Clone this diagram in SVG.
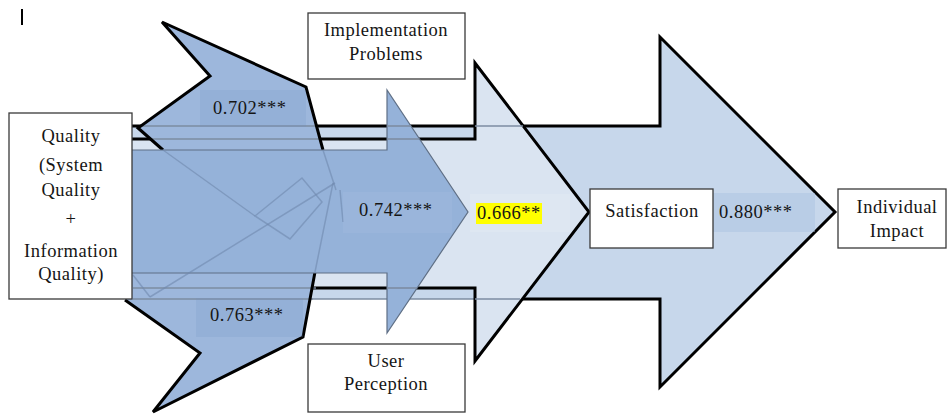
<svg xmlns="http://www.w3.org/2000/svg" width="952" height="414" viewBox="0 0 952 414">
<style>
.box{fill:#fff;stroke:#3a3a3a;stroke-width:1.3}
.t{font-family:"Liberation Serif","Times New Roman",serif;font-size:18.5px;letter-spacing:0.5px;fill:#151515}
.c{text-anchor:middle}
.blk{fill:none;stroke:#000;stroke-width:3;stroke-linejoin:miter}
.gry{fill:none;stroke:#7d8ca2;stroke-width:1.6}
.faint{fill:none;stroke:#6f89ad;stroke-width:1.5;opacity:0.6}
.chev{fill:#9db7dc}
.lblbg{fill:#6f90c2;opacity:0.18}
</style>
<rect width="952" height="414" fill="#fff"/>
<line x1="22" y1="9" x2="22" y2="25" stroke="#000" stroke-width="2"/>
<g id="connectors">
  <!-- large arrow to Individual Impact -->
  <polygon points="125,126 660,126 660,37 835,212 660,387 660,299 125,299" fill="#c7d7eb"/>
  <polyline class="blk" points="520,299 660,299 660,387 835,212 660,37 660,126 125,126"/>
  <line class="gry" x1="125" y1="299" x2="520" y2="299"/>
  <!-- middle arrow to Satisfaction -->
  <polygon points="125,139 475,139 475,63 589,212 475,361 475,288 125,288" fill="#dae4f1"/>
  <polyline class="blk" points="125,139 475,139 475,63 589,212 475,361 475,288 125,288"/>
  <line class="gry" x1="475" y1="126" x2="523" y2="126"/>
  <line class="gry" x1="475" y1="299" x2="520" y2="299"/>
  <!-- chevron shapes -->
  <polygon class="chev" points="138,128 210,76 162,22 306,87 323,150 163,150"/>
  <polygon class="chev" points="125,300 200,353 153,412 303,337 315,272 125,272"/>
  <line class="gry" x1="141" y1="126" x2="317" y2="126"/>
  <line class="gry" x1="150" y1="139" x2="320" y2="139"/>
  <line class="gry" x1="133" y1="288" x2="316" y2="288"/>
  <line class="gry" x1="133" y1="299" x2="313" y2="299"/>
  <polyline class="blk" stroke-width="2.6" points="163,150 138,128 210,76 162,22 306,87 323,150"/>
  <polyline class="blk" stroke-width="2.6" points="125,300 200,353 153,412 303,337 315,272"/>
  <!-- small arrow -->
  <polygon points="125,150 387,150 387,90 468,212 387,333 387,273 125,273" fill="#95b2d9" stroke="#5f6f85" stroke-width="1.2"/>
  <line class="gry" x1="387" y1="126" x2="411" y2="126"/>
  <line class="gry" x1="387" y1="139" x2="419" y2="139"/>
  <line class="gry" x1="387" y1="288" x2="417" y2="288"/>
  <!-- faint inner outlines -->
  <line class="faint" x1="163" y1="150" x2="255" y2="216"/>
  <polygon class="faint" points="255,216 302,178 322,202 290,239"/>
  <line class="faint" x1="323" y1="150" x2="336" y2="190"/>
  <line class="faint" x1="150" y1="297" x2="335" y2="183"/>
  <line class="faint" x1="315" y1="272" x2="333" y2="183"/>
  <line class="faint" x1="133" y1="275" x2="150" y2="297"/>
  <line class="faint" x1="340" y1="190" x2="343" y2="222"/>
  <!-- labels -->
  <rect class="lblbg" x="200" y="90" width="106" height="37"/>
  <rect class="lblbg" x="196" y="298" width="107" height="39"/>
  <rect fill="#a6bde0" opacity="0.3" x="343" y="192" width="109" height="41"/>
  <rect fill="#ffffff" opacity="0.12" x="470" y="194" width="100" height="38"/>
  <rect fill="#a9c0e0" opacity="0.45" x="713" y="193" width="102" height="39"/>
  <text class="t" x="213" y="114">0.702***</text>
  <text class="t" x="210" y="321">0.763***</text>
  <text class="t" x="359" y="216">0.742***</text>
  <rect x="476" y="203" width="66" height="21" fill="#ffff00"/>
  <text class="t" x="477" y="219">0.666**</text>
  <text class="t" x="719" y="218">0.880***</text>
</g>
<g id="quality">
  <rect class="box" x="9" y="113" width="123" height="186"/>
  <text class="t c" x="71" y="142">Quality</text>
  <text class="t c" x="71" y="171">(System</text>
  <text class="t c" x="71" y="196">Quality</text>
  <text class="t c" x="71" y="225">+</text>
  <text class="t c" x="71" y="257">Information</text>
  <text class="t c" x="71" y="280">Quality)</text>
</g>
<g id="implementation">
  <rect class="box" x="308" y="13" width="157" height="66"/>
  <text class="t c" x="386" y="36">Implementation</text>
  <text class="t c" x="386" y="60">Problems</text>
</g>
<g id="user">
  <rect class="box" x="308" y="344" width="157" height="68"/>
  <text class="t c" x="386" y="367">User</text>
  <text class="t c" x="386" y="390">Perception</text>
</g>
<g id="satisfaction">
  <rect class="box" x="590" y="189" width="123" height="59"/>
  <text class="t c" x="652" y="217">Satisfaction</text>
</g>
<g id="impact">
  <rect class="box" x="838" y="189" width="108" height="59"/>
  <text class="t c" x="897" y="213">Individual</text>
  <text class="t c" x="897" y="237">Impact</text>
</g>
</svg>
